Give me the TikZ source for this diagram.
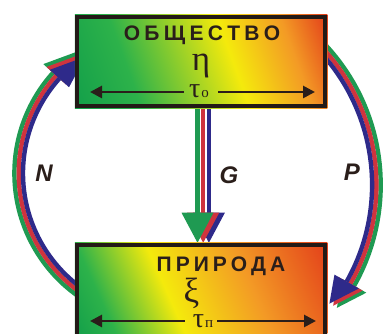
\documentclass[tikz,border=0pt]{standalone}
\usepackage{fontspec}
\setmainfont{Liberation Serif}
\newfontfamily\lsans{Liberation Sans}
\usetikzlibrary{calc,backgrounds,arrows.meta}
\definecolor{gA}{HTML}{14A04A}
\definecolor{gB}{HTML}{2DB24A}
\definecolor{syellow}{HTML}{F4EA0C}
\definecolor{sorange}{HTML}{F39A25}
\definecolor{sred}{HTML}{E4431B}
\definecolor{boxline}{HTML}{231A17}
\definecolor{txt}{HTML}{2A1E1A}
\definecolor{bgreen}{HTML}{1F9A52}
\definecolor{bred}{HTML}{CF343E}
\definecolor{bblue}{HTML}{2E2A8A}
\pgfdeclarehorizontalshading{topshade}{100bp}{color(0bp)=(gA); color(28bp)=(gA); color(38bp)=(gB); color(55bp)=(syellow); color(65bp)=(sorange); color(72bp)=(sred); color(100bp)=(sred)}
\pgfdeclarehorizontalshading{botshade}{100bp}{color(0bp)=(gA); color(28bp)=(gA); color(34bp)=(gB); color(44.7bp)=(syellow); color(58bp)=(sorange); color(72bp)=(sred); color(100bp)=(sred)}
\begin{document}
\begin{tikzpicture}[x=1pt,y=1pt,
  box/.style={draw=boxline,line width=4.5pt,minimum width=248pt,inner sep=0pt,rectangle},
  cyrtxt/.style={font=\lsans\bfseries\fontsize{21}{21}\selectfont, text=txt, inner sep=0pt},
  greek/.style={font=\fontsize{35}{35}\selectfont, text=txt, inner sep=0pt},
  taufont/.style={font=\fontsize{28}{28}\selectfont, text=txt, inner sep=0pt},
  lbl/.style={font=\lsans\bfseries\itshape\fontsize{24}{24}\selectfont, text=txt, inner sep=0pt},
  dimarrow/.style={line width=2.7pt, draw=txt, -{Triangle[length=12pt,width=12pt]}},
  stripe/.style={line width=4.4pt},
]
\useasboundingbox (0,0) rectangle (384,334);
% boxes
\node[box, minimum height=89pt] (soc) at (201,272.5) {};
\node[box, minimum height=92pt] (nat) at (201,43) {};
% texts of top box
\node[cyrtxt] (socname) at (202,298.5) {О\kern4.3pt Б\kern4.3pt Щ\kern4.3pt Е\kern4.3pt С\kern4.3pt Т\kern4.3pt В\kern4.3pt О};
\node[greek] (eta) at (201,268) {η};
\node[taufont, anchor=base] (tauo) at (199,236) {τ\kern1pt{\fontsize{15}{15}\selectfont о}};
\coordinate (soL) at (90,242);
\coordinate (soR) at (315,242);
\draw[dimarrow] ([xshift=-5pt]tauo.west |- soL) -- (soL);
\draw[dimarrow] ([xshift=9pt]tauo.east |- soR) -- (soR);
% texts of bottom box
\node[cyrtxt] (natname) at (221,68) {П\kern4pt Р\kern4pt И\kern4pt Р\kern4pt О\kern4pt Д\kern4pt А};
\node[greek] (xi) at (191.5,41) {ξ};
\node[taufont, anchor=base] (taup) at (203,6) {τ\kern1pt{\fontsize{15}{15}\selectfont п}};
\coordinate (naL) at (90,13);
\coordinate (naR) at (316,13);
\draw[dimarrow] ([xshift=-8pt]taup.west |- naL) -- (naL);
\draw[dimarrow] ([xshift=4pt]taup.east |- naR) -- (naR);
% labels
\node[lbl] (N) at (44,161) {N};
\node[lbl] (G) at (229,159) {G};
\node[lbl] (P) at (352,162) {P};
\begin{pgfonlayer}{background}
  \coordinate (cN) at (164.6,160.7);
  \coordinate (cP) at (175.8,149.1);
  % N arc
  \foreach \r/\c in {150.2/bgreen,145.9/bred,141.6/bblue}{
    \draw[stripe,draw=\c] ($(cN)+(237:\r)$) arc[start angle=237,end angle=138,radius=\r];
    \fill[fill=\c] ($(cN)+(138:\r+13)$) -- ($(cN)+(138:\r-13)$) -- ($(cN)+(138:\r)+(40:34)$) -- cycle;
  }
  % P arc
  \foreach \r/\c in {204.9/bgreen,200.6/bred,196.3/bblue}{
    \draw[stripe,draw=\c] ($(cP)+(46:\r)$) arc[start angle=46,end angle=-29.5,radius=\r];
    \fill[fill=\c] ($(cP)+(-29.5:\r+14)$) -- ($(cP)+(-29.5:\r-14)$) -- ($(cP)+(-29.5:\r)+(-128:28)$) -- cycle;
  }
  % G arrow
  \coordinate (gtop) at ([xshift=-3.5pt]soc.south);
  \coordinate (gtip) at ([xshift=-3.5pt]nat.north);
  \foreach \dx/\c in {11.4/bblue,5.7/bred,0/bgreen}{
    \draw[line width=4.5pt,draw=\c] ($(gtop)+(\dx,0)$) -- ($(gtip)+(\dx,30)$);
    \fill[fill=\c] ($(gtip)+(\dx-16,30)$) -- ($(gtip)+(\dx+16,30)$) -- ($(gtip)+(\dx,0)$) -- cycle;
  }
  % shadings
  \begin{scope}
    \clip (soc.south west) rectangle (soc.north east);
    \shade[shading=topshade, shading angle=20] ($(soc.center)+(-150,-150)$) rectangle +(300,300);
  \end{scope}
  \begin{scope}
    \clip (nat.south west) rectangle (nat.north east);
    \shade[shading=botshade, shading angle=24] ($(nat.center)+(-150,-150)$) rectangle +(300,300);
  \end{scope}
\end{pgfonlayer}
\end{tikzpicture}
\end{document}
